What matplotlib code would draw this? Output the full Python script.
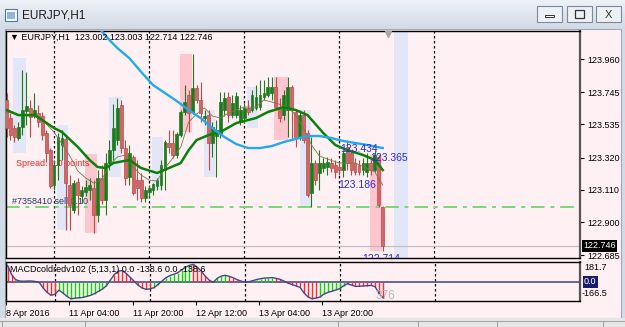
import numpy as np
import matplotlib
matplotlib.use('Agg')
import matplotlib.pyplot as plt
from matplotlib.patches import Rectangle
from matplotlib.colors import LinearSegmentedColormap
import matplotlib.transforms as mtrans

# EURJPY H1 candles, from 8 Apr 2016 12:00 (bar 0)
bar_open = [123.694, 123.577, 123.512, 123.447, 123.518, 123.622, 123.642, 123.596, 123.609, 123.590,
            123.479, 123.369, 123.142, 123.272, 123.402, 123.440, 123.142, 122.979, 123.161, 123.070,
            123.096, 123.109, 123.122, 122.947, 123.187, 123.044, 123.285, 123.369, 123.434, 123.661,
            123.382, 123.194, 123.324, 123.174, 123.174, 123.057, 123.096, 123.109, 123.135, 123.142,
            123.239, 123.415, 123.415, 123.337, 123.466, 123.616, 123.726, 123.616, 123.772, 123.694,
            123.577, 123.596, 123.415, 123.460, 123.473, 123.629, 123.713, 123.596, 123.596, 123.551,
            123.577, 123.642, 123.629, 123.642, 123.648, 123.713, 123.726, 123.739, 123.778, 123.648,
            123.596, 123.629, 123.778, 123.616, 123.454, 123.596, 123.479, 123.090, 123.285, 123.220,
            123.252, 123.259, 123.285, 123.272, 123.259, 123.239, 123.389, 123.350, 123.285, 123.272,
            123.239, 123.226, 123.285, 123.239, 123.324, 123.002]
bar_high = [123.739, 123.610, 123.531, 123.551, 123.889, 123.876, 123.694, 123.739, 123.661, 123.616,
            123.499, 123.382, 123.304, 123.479, 123.499, 123.460, 123.207, 123.174, 123.187, 123.135,
            123.174, 123.187, 123.174, 123.239, 123.272, 123.350, 123.434, 123.668, 123.707, 123.694,
            123.434, 123.402, 123.337, 123.304, 123.220, 123.135, 123.142, 123.155, 123.187, 123.304,
            123.434, 123.499, 123.499, 123.486, 123.629, 123.791, 123.759, 123.992, 123.791, 123.811,
            123.629, 123.629, 123.551, 123.564, 123.746, 123.746, 123.746, 123.726, 123.746, 123.661,
            123.674, 123.694, 123.759, 123.791, 123.824, 123.824, 123.843, 123.843, 123.843, 123.707,
            123.759, 123.843, 123.791, 123.629, 123.629, 123.629, 123.499, 123.454, 123.304, 123.369,
            123.317, 123.324, 123.317, 123.304, 123.291, 123.369, 123.434, 123.369, 123.317, 123.304,
            123.317, 123.350, 123.304, 123.369, 123.337, 123.003]
bar_low = [123.454, 123.434, 123.421, 123.434, 123.466, 123.531, 123.454, 123.577, 123.518, 123.434,
           123.291, 123.122, 123.109, 123.174, 123.304, 122.850, 122.850, 122.960, 122.947, 123.025,
           123.070, 123.044, 122.830, 122.902, 123.020, 122.947, 123.239, 123.304, 123.402, 123.350,
           123.142, 123.142, 123.077, 123.044, 123.031, 123.031, 123.064, 123.077, 123.109, 123.109,
           123.109, 123.350, 123.317, 123.317, 123.454, 123.596, 123.486, 123.603, 123.674, 123.551,
           123.531, 123.239, 123.324, 123.194, 123.447, 123.590, 123.551, 123.577, 123.577, 123.531,
           123.544, 123.596, 123.616, 123.629, 123.629, 123.694, 123.713, 123.694, 123.629, 123.551,
           123.564, 123.454, 123.434, 123.389, 123.434, 123.415, 123.064, 122.999, 123.142, 123.109,
           123.226, 123.207, 123.226, 123.187, 123.207, 123.194, 123.239, 123.207, 123.207, 123.207,
           123.207, 123.194, 123.207, 123.226, 122.999, 122.714]
bar_close = [123.512, 123.466, 123.454, 123.518, 123.629, 123.655, 123.583, 123.629, 123.551, 123.466,
             123.350, 123.135, 123.272, 123.454, 123.447, 123.155, 123.012, 123.155, 123.077, 123.109,
             123.129, 123.142, 122.947, 123.187, 123.044, 123.285, 123.369, 123.512, 123.642, 123.382,
             123.187, 123.350, 123.090, 123.122, 123.057, 123.109, 123.122, 123.148, 123.174, 123.272,
             123.421, 123.389, 123.337, 123.473, 123.616, 123.681, 123.609, 123.772, 123.694, 123.609,
             123.590, 123.415, 123.518, 123.499, 123.681, 123.707, 123.596, 123.674, 123.720, 123.629,
             123.642, 123.616, 123.726, 123.713, 123.726, 123.739, 123.778, 123.778, 123.648, 123.577,
             123.726, 123.778, 123.629, 123.454, 123.596, 123.434, 123.077, 123.285, 123.174, 123.285,
             123.285, 123.291, 123.252, 123.226, 123.239, 123.350, 123.285, 123.239, 123.226, 123.226,
             123.285, 123.285, 123.239, 123.337, 123.012, 122.746]

# moving averages (bar index, value)
slow_ma_bars = [22, 24, 26, 28, 31, 34, 37, 40, 43, 46, 49, 52, 55, 58, 61, 64, 67, 70, 73, 76,
                79, 82, 85, 88, 91, 95]
slow_ma = [124.200, 124.142, 124.083, 124.031, 123.966, 123.876, 123.791, 123.739, 123.687, 123.629,
           123.577, 123.512, 123.454, 123.408, 123.382, 123.382, 123.395, 123.421, 123.441, 123.460,
           123.460, 123.447, 123.428, 123.415, 123.402, 123.382]
mid_ma_bars = [0, 3, 7, 9, 12, 14, 18, 21, 23, 25, 27, 31, 34, 38, 41, 44, 46, 48, 51, 54,
               58, 63, 66, 70, 73, 76, 80, 83, 86, 90, 93, 95]
mid_ma = [123.629, 123.596, 123.596, 123.564, 123.512, 123.486, 123.389, 123.304, 123.259, 123.252,
          123.285, 123.304, 123.252, 123.220, 123.252, 123.285, 123.369, 123.434, 123.466, 123.486,
          123.544, 123.577, 123.616, 123.648, 123.629, 123.596, 123.479, 123.402, 123.369, 123.337,
          123.304, 123.239]
fast_ma_bars = [0, 4, 8, 10, 12, 14, 16, 18, 20, 22, 24, 26, 28, 30, 32, 34, 36, 38, 40, 42,
                44, 46, 48, 50, 52, 54, 56, 58, 60, 63, 65, 68, 71, 73, 75, 77, 79, 81, 84, 88,
                91, 93, 95]
fast_ma = [123.616, 123.596, 123.583, 123.538, 123.486, 123.408, 123.330, 123.233, 123.187, 123.155,
           123.174, 123.272, 123.324, 123.337, 123.259, 123.207, 123.174, 123.168, 123.252, 123.317,
           123.389, 123.551, 123.603, 123.642, 123.590, 123.577, 123.609, 123.629, 123.648, 123.648,
           123.694, 123.674, 123.648, 123.596, 123.512, 123.402, 123.330, 123.311, 123.285, 123.285,
           123.252, 123.226, 123.142]

# MACDcoldredv102 (5,13,1)
macd = [150, 70, 25, 12, 10, 12, 12, 8, 0, -50,
        -90, -116, -105, -70, -95, -125, -146, -142, -138, -135,
        -125, -116, -100, -80, -60, -30, 20, 70, 100, 105,
        80, 45, 10, -25, -50, -62, -58, -48, -20, 10,
        40, 60, 72, 85, 110, 135, 152, 161, 135, 100,
        55, 20, 0, 35, 55, 63, 55, 42, 25, 12,
        2, 5, 15, 25, 33, 38, 40, 42, 35, 26,
        10, -8, -20, -32, -45, -95, -130, -146, -140, -132,
        -105, -90, -80, -68, -57, -30, -12, -25, -36, -35,
        -32, -30, -27, -40, -101, -138.6]
# histogram state per bar: 1 = green buffer, 0 = red buffer
macd_green = [0, 0, 0, 1, 1, 1, 1, 1, 0, 0,
              0, 0, 0, 1, 1, 1, 1, 1, 1, 1,
              1, 1, 1, 1, 1, 1, 1, 0, 0, 0,
              0, 0, 0, 0, 0, 0, 0, 1, 1, 1,
              1, 1, 1, 1, 1, 1, 1, 0, 0, 0,
              0, 0, 0, 1, 1, 1, 0, 0, 0, 0,
              0, 1, 1, 1, 1, 1, 1, 1, 0, 0,
              0, 0, 0, 0, 0, 0, 0, 0, 0, 1,
              1, 1, 1, 1, 1, 1, 0, 0, 0, 0,
              0, 0, 0, 0, 0, 0]

# highlight zones: (first bar, last bar, low, high)
pink_zones = [(19.8, 22.9, 122.830, 123.343), (43.8, 46.8, 123.486, 123.992),
              (67.6, 71.1, 123.434, 123.843), (91.8, 94.8, 122.713, 123.337)]
blue_zones = [(1.6, 4.9, 123.350, 123.966), (12.8, 15.5, 122.850, 123.531),
              (25.9, 28.9, 123.194, 123.713), (36.7, 39.5, 123.109, 123.454),
              (49.9, 52.7, 123.194, 123.629), (60.7, 63.5, 123.512, 123.778),
              (74.0, 76.9, 122.999, 123.629)]

price_ticks = [123.960, 123.745, 123.535, 123.320, 123.110, 122.900, 122.685]
date_labels = ['8 Apr 2016', '11 Apr 04:00', '11 Apr 20:00', '12 Apr 12:00',
               '13 Apr 04:00', '13 Apr 20:00']
date_bars = [-0.4, 15.6, 31.6, 47.6, 63.6, 79.6]
day_separators = [12, 36, 60, 84, 108]
sell_price = 123.000
bid_price = 122.746

plt.rcParams['font.family'] = ['Liberation Sans', 'DejaVu Sans']

W, H = 625, 327
PINK = '#FFF0F4'
GREEN = '#1E7A1E'
RED = '#C04848'
RED_BODY = '#D06868'


def px_rect(x0, y0, x1, y1, **kw):
    r = Rectangle((x0 / W, 1 - y1 / H), (x1 - x0) / W, (y1 - y0) / H,
                  transform=fig.transFigure, **kw)
    fig.add_artist(r)
    return r


def px_text(x, y, s, **kw):
    return fig.text(x / W, 1 - y / H, s, **kw)


fig = plt.figure(figsize=(6.25, 3.27), dpi=100)
fig.patch.set_facecolor('#D3DCE6')

# window title bar
tb = fig.add_axes([0, 1 - 28 / H, 1, 28 / H])
tb.imshow(np.linspace(0, 1, 28)[:, None],
          cmap=LinearSegmentedColormap.from_list('tb', ['#EEF2F7', '#D2DBE6']),
          aspect='auto', extent=[0, 1, 0, 1])
tb.axis('off')
px_rect(5, 9, 17, 21, facecolor='#FFFFFF', edgecolor='#4A78B8', lw=0.8)
px_rect(7, 12, 15, 19, facecolor='#8FB4E0', edgecolor='none')
px_text(22, 15, 'EURJPY,H1', fontsize=8.5, va='center', color='#1C1C1C')
for x0, x1 in [(537, 562), (567, 592), (596, 621)]:
    px_rect(x0, 6, x1, 22, facecolor='#EDF1F6', edgecolor='#7C8A9B', lw=0.8)
px_rect(545, 15, 554, 17, facecolor='#FFFFFF', edgecolor='#333333', lw=0.7)
px_rect(575, 10, 584, 18, facecolor='none', edgecolor='#333333', lw=0.9)
px_text(608.5, 14.5, 'X', fontsize=8, ha='center', va='center', color='#333333')

# chart window background and bottom tab strip (behind the axes)
px_rect(5, 29, 621, 318, facecolor=PINK, edgecolor='#A0AAB6', lw=0.8, zorder=-5)
px_rect(0, 318, 625, 327, facecolor='#E6E6E6', edgecolor='none', zorder=-5)
fig.add_artist(plt.Line2D([0, 1], [1 - 321 / H] * 2, color='#A8A8A8', lw=0.8,
                          transform=fig.transFigure))
for xs in [2, 85, 338, 418, 497, 603]:
    fig.add_artist(plt.Line2D([xs / W] * 2, [0, 1 - 321 / H], color='#A8A8A8', lw=0.8,
                              transform=fig.transFigure))

# main price chart
ax = fig.add_axes([6 / W, 1 - 258 / H, 574 / W, 227 / H])
ax.set_facecolor(PINK)
ax.set_xlim(-0.13, 144.8)
ax.set_ylim(122.668, 124.142)

for b0, b1, lo, hi in pink_zones:
    ax.add_patch(Rectangle((b0, lo), b1 - b0, hi - lo, facecolor='#FFC6D0',
                           edgecolor='none', zorder=1))
for b0, b1, lo, hi in blue_zones:
    ax.add_patch(Rectangle((b0, lo), b1 - b0, hi - lo, facecolor='#E3E6F6',
                           edgecolor='none', zorder=1))
ax.axvspan(97.9, 101.4, color='#E3E6F6', lw=0, zorder=1)

for s in day_separators:
    ax.axvline(s, color='black', lw=0.9, ls=(0, (2, 2)), zorder=2)

ax.axhline(bid_price, color='#C0C0C0', lw=0.9, zorder=2)
ax.axhline(sell_price, color='#78D878', lw=1.4, ls=(0, (7, 3, 2, 3)), zorder=2)

ax.text(10 / 574, (258 - 163) / 227, 'Spread: 1.0 points', transform=ax.transAxes,
        fontsize=6.5, color='#FF2020', va='center', zorder=2)
ax.text(6 / 574, (258 - 201) / 227, '#7358410 sell 0.10', transform=ax.transAxes,
        fontsize=6.5, color='#2A3868', va='center', zorder=2)

bars = np.arange(len(bar_open))
o = np.array(bar_open)
c = np.array(bar_close)
up = c >= o
edge = np.where(up, GREEN, RED)
ax.vlines(bars, bar_low, bar_high, colors=edge, lw=0.8, zorder=4)
ax.bar(bars, np.maximum(np.abs(c - o), 0.005), bottom=np.minimum(o, c), width=0.72,
       color=np.where(up, GREEN, RED_BODY), edgecolor=edge, lw=0.5, zorder=5)

ax.plot(fast_ma_bars, fast_ma, color='#7A7A48', lw=0.6, zorder=6)
ax.plot(mid_ma_bars, mid_ma, color='#0A820A', lw=1.8, zorder=6)
ax.plot(slow_ma_bars, slow_ma, color='#22AAEE', lw=1.7, zorder=6)

for s, b, p in [('123.434', 84.2, 123.376), ('123.365', 91.8, 123.317),
                ('123.186', 83.7, 123.142), ('122.714', 89.8, 122.662)]:
    ax.text(b, p, s, fontsize=7.5, color='#2828E8', va='center', zorder=7, clip_on=True)

ax.plot([96.3], [0.985], marker='v', ms=5, color='#A8A8A8',
        transform=mtrans.blended_transform_factory(ax.transData, ax.transAxes), zorder=7)
ax.text(4 / 574, (258 - 37) / 227,
        '\u25bc EURJPY,H1  123.002 123.003 122.714 122.746',
        transform=ax.transAxes, fontsize=6.5, va='center', zorder=8)

ax.yaxis.tick_right()
ax.set_yticks(price_ticks)
ax.set_yticklabels(['%.3f' % v for v in price_ticks])
ax.tick_params(axis='y', length=3, width=0.8, pad=2, labelsize=6.5)
ax.set_xticks([])
for sp in ax.spines.values():
    sp.set_color('black')
    sp.set_linewidth(1)
ax.spines['right'].set_color('#555555')
ax.spines['right'].set_linewidth(1.6)
ax.text(1 + 3 / 574, bid_price, '122.746', fontsize=6.5, color='white', va='center',
        transform=mtrans.blended_transform_factory(ax.transAxes, ax.transData),
        bbox=dict(facecolor='black', edgecolor='none', pad=1.0), zorder=9, clip_on=False)

# MACD sub window
sub = fig.add_axes([6 / W, 1 - 301 / H, 574 / W, 39 / H])
sub.set_facecolor(PINK)
sub.set_xlim(-0.13, 144.8)
sub.set_ylim(-166.5, 181.7)
for s in day_separators:
    sub.axvline(s, color='black', lw=0.9, ls=(0, (2, 2)), zorder=1)
sub.axhline(0, color='#4E4E90', lw=1.2, zorder=2)
m = np.array(macd)
hist_cols = np.where(np.array(macd_green) == 1, '#00DD00', '#FF2A2A')
sub.vlines(bars, 0, m, colors=hist_cols, lw=1.0, zorder=3)
sub.plot(bars, m, color='#46468A', lw=1.0, zorder=4)
sub.text(4 / 574, (301 - 269) / 39, 'MACDcoldredv102 (5,13,1) 0.0 -138.6 0.0 -138.6',
         transform=sub.transAxes, fontsize=6.5, va='center', zorder=5)
sub.text(93.0, 0.13, '376', fontsize=8.5, color='#B8B8B8', va='center',
         transform=mtrans.blended_transform_factory(sub.transData, sub.transAxes), zorder=5)
sub.set_yticks([])
sub.set_xticks(date_bars)
sub.set_xticklabels(date_labels, ha='left')
sub.tick_params(axis='x', length=3, width=0.8, pad=3, labelsize=6.5)
for sp in sub.spines.values():
    sp.set_color('black')
    sp.set_linewidth(1)
sub.spines['right'].set_color('#555555')
sub.spines['right'].set_linewidth(1.6)

px_text(584, 267, '181.7', fontsize=6.5, va='center')
px_text(582, 294, '-166.5', fontsize=6.5, va='center')
px_text(584, 282, '0.0', fontsize=6.5, va='center', color='white',
        bbox=dict(facecolor='#1C1C6C', edgecolor='none', pad=1.0))

fig.savefig('out.png', dpi=100, facecolor=fig.get_facecolor())
